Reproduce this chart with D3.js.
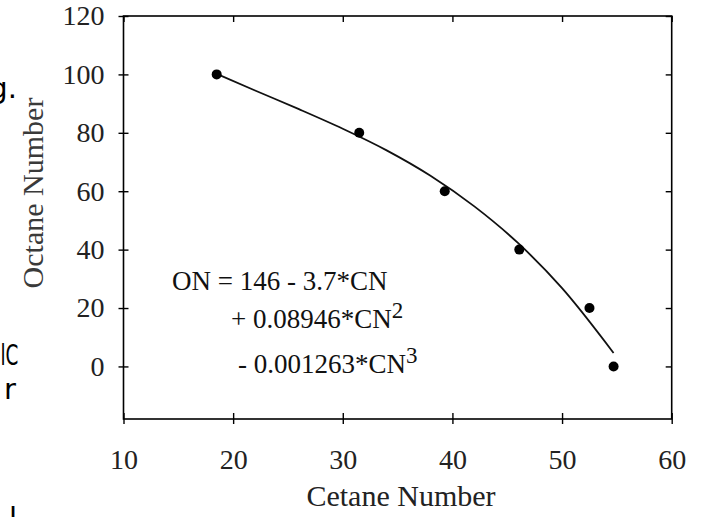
<!DOCTYPE html>
<html lang="en">

<head>
    <meta charset="UTF-8">
    <title>Octane vs Cetane</title>
    <style>
        body {
            margin: 0;
            background: #fff;
        }

        .canvas svg {
            display: block;
        }

        .tick text {
            font-family: "Liberation Serif", "Times New Roman", serif;
        }
    </style>
</head>

<body>
    <div class="canvas"></div>

    <script src="https://d3js.org/d3.v7.min.js"></script>
    <script>
        // measured points
        const cetane = [18.5, 31.5, 39.3, 46.1, 52.5, 54.7];
        const octane = [100, 80, 60, 40, 20, 0];

        // fitted curve
        const fitCetane = [18.5, 22, 26, 30, 34, 38, 42, 46, 50, 54.7];
        const fitOctane = [100.2, 94.5, 88.1, 81.4, 74.0, 65.3, 54.8, 42.2, 26.8, 4.6];

        const xTicks = [10, 20, 30, 40, 50, 60];
        const yTicks = [0, 20, 40, 60, 80, 100, 120];

        const eqLines = ['ON = 146 - 3.7*CN', '+ 0.08946*CN', '- 0.001263*CN'];
        const eqPowers = ['', '2', '3'];

        // clipped bits of slide text at the left edge
        const sideText = ['g.', 'lC', 'r', 'l'];

        const dims = { width: 702, height: 517 };
        const plot = { left: 123.5, right: 671.7, top: 16, bottom: 419 };
        const serif = '"Liberation Serif", "Times New Roman", serif';

        const svg = d3.select('.canvas')
            .append('svg')
            .attr('width', dims.width)
            .attr('height', dims.height);

        const x = d3.scaleLinear().domain([10, 60]).range([plot.left, plot.right]);
        const y = d3.scaleLinear().domain([-18, 120]).range([plot.bottom, plot.top]);

        // frame
        svg.append('rect')
            .attr('x', plot.left)
            .attr('y', plot.top)
            .attr('width', plot.right - plot.left)
            .attr('height', plot.bottom - plot.top)
            .attr('fill', 'none')
            .attr('stroke', '#000')
            .attr('stroke-width', 1.6);

        const styleAxis = (g) => {
            g.select('.domain').remove();
            g.selectAll('.tick line').attr('stroke', '#000').attr('stroke-width', 1.4);
            g.selectAll('.tick text').attr('fill', '#222');
        };

        // left: labels + ticks crossing the line
        svg.append('g')
            .attr('transform', `translate(${plot.left},0)`)
            .call(d3.axisLeft(y).tickValues(yTicks).tickSize(5).tickPadding(14))
            .call(styleAxis)
            .call(g => g.selectAll('.tick text').attr('font-size', 28));
        svg.append('g')
            .attr('transform', `translate(${plot.left},0)`)
            .call(d3.axisRight(y).tickValues(yTicks).tickSize(5).tickFormat(''))
            .call(styleAxis);

        // right: inward ticks
        svg.append('g')
            .attr('transform', `translate(${plot.right},0)`)
            .call(d3.axisLeft(y).tickValues(yTicks).tickSize(6).tickFormat(''))
            .call(styleAxis);

        // bottom: labels + crossing ticks
        svg.append('g')
            .attr('transform', `translate(0,${plot.bottom})`)
            .call(d3.axisBottom(x).tickValues(xTicks).tickSize(5).tickPadding(25))
            .call(styleAxis)
            .call(g => g.selectAll('.tick text').attr('font-size', 28));
        svg.append('g')
            .attr('transform', `translate(0,${plot.bottom})`)
            .call(d3.axisTop(x).tickValues(xTicks).tickSize(6).tickFormat(''))
            .call(styleAxis);

        // top: inward ticks
        svg.append('g')
            .attr('transform', `translate(0,${plot.top})`)
            .call(d3.axisBottom(x).tickValues(xTicks).tickSize(6).tickFormat(''))
            .call(styleAxis);

        // axis titles
        svg.append('text')
            .attr('x', 401)
            .attr('y', 506)
            .attr('text-anchor', 'middle')
            .attr('font-family', serif)
            .attr('font-size', 30)
            .attr('fill', '#222')
            .text('Cetane Number');

        svg.append('text')
            .attr('transform', 'translate(43,193) rotate(-90)')
            .attr('text-anchor', 'middle')
            .attr('font-family', serif)
            .attr('font-size', 30)
            .attr('fill', '#3a3a3a')
            .text('Octane Number');

        // fitted curve
        const fit = fitCetane.map((c, i) => ({ cn: c, on: fitOctane[i] }));
        const line = d3.line()
            .x(d => x(d.cn))
            .y(d => y(d.on))
            .curve(d3.curveMonotoneX);

        svg.append('path')
            .datum(fit)
            .attr('d', line)
            .attr('fill', 'none')
            .attr('stroke', '#111')
            .attr('stroke-width', 1.8);

        // points
        const pts = cetane.map((c, i) => ({ cn: c, on: octane[i] }));
        svg.selectAll('circle.pt')
            .data(pts)
            .enter()
            .append('circle')
            .attr('class', 'pt')
            .attr('cx', d => x(d.cn))
            .attr('cy', d => y(d.on))
            .attr('r', 5)
            .attr('fill', '#000');

        // equation
        const eqX = [172, 231, 238];
        const eqY = [290, 328, 373];
        eqLines.forEach((t, i) => {
            const txt = svg.append('text')
                .attr('x', eqX[i])
                .attr('y', eqY[i])
                .attr('font-family', serif)
                .attr('font-size', 27)
                .attr('fill', '#111')
                .text(t);
            if (eqPowers[i]) {
                txt.append('tspan')
                    .attr('dy', -10)
                    .attr('font-size', 23)
                    .text(eqPowers[i]);
            }
        });

        // left-edge fragments
        const sideY = [98, 365, 399, 528];
        const sideEnd = [17, 18, 16, 17];
        sideText.forEach((t, i) => {
            const s = svg.append('text')
                .attr('x', sideEnd[i])
                .attr('y', sideY[i])
                .attr('text-anchor', 'end')
                .attr('font-family', '"DejaVu Sans", sans-serif')
                .attr('font-size', 29)
                .attr('fill', '#000')
                .text(t);
            // the "lC" bit is narrow in the source
            if (t === 'lC') {
                s.attr('x', 0.5)
                    .attr('text-anchor', 'start')
                    .attr('textLength', 18)
                    .attr('lengthAdjust', 'spacingAndGlyphs');
            }
        });
    </script>
</body>

</html>
